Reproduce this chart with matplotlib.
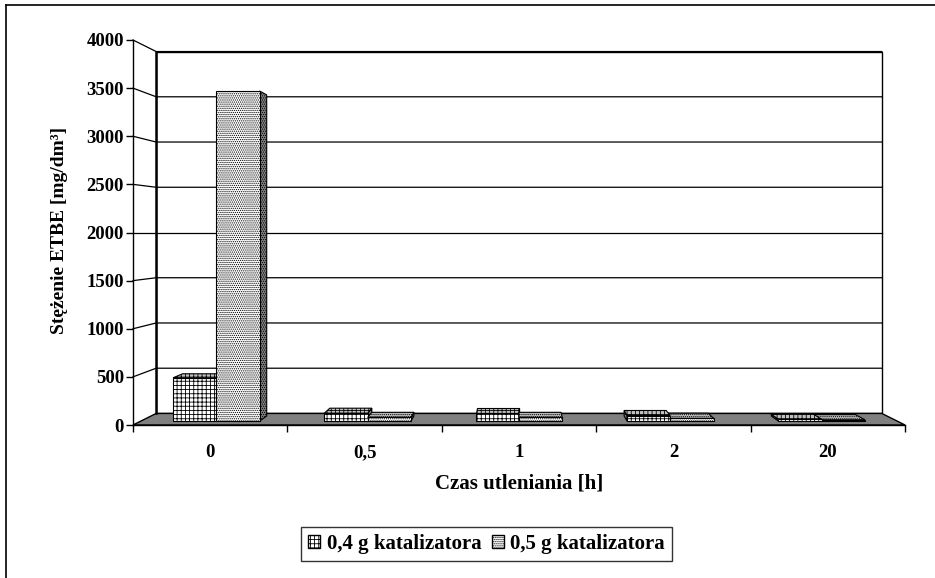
import matplotlib.pyplot as plt
from matplotlib.patches import Polygon, Patch
from matplotlib.lines import Line2D
import numpy as np

plt.rcParams['font.family'] = ['Liberation Serif', 'DejaVu Serif']
plt.rcParams['font.weight'] = 'bold'
plt.rcParams['hatch.linewidth'] = 0.6

# dane
categories = ['0', '0,5', '1', '2', '20']
series_labels = ['0,4 g katalizatora', '0,5 g katalizatora']
kat_04 = [460, 85, 85, 60, 20]
kat_05 = [3500, 40, 40, 30, 15]
y_ticks = [0, 500, 1000, 1500, 2000, 2500, 3000, 3500, 4000]

series = [kat_04, kat_05]
hatches = ['++++', '........']

DEPTH = 0.06          # zmniejszenie tylnej sciany (perspektywa)
BAR_Z = (0.33, 0.78)  # glebokosc slupkow
GAP = 1.5             # odstep miedzy grupami (jak w Excelu)
FS_TICK = 13.5
FS_TITLE = 15

fig = plt.figure(figsize=(9.35, 5.78), dpi=100)
ax = fig.add_axes([133 / 935, 153 / 578, 772 / 935, 385 / 578])
n = len(categories)
top = y_ticks[-1]
ax.set_xlim(0, n)
ax.set_ylim(0, top)
ax.patch.set_visible(False)


def proj(x, y, z):
    """Punkt (x, y, glebokosc z) -> wspolrzedne danych po perspektywie."""
    p = ax.transData.transform((x, y))
    c = ax.transAxes.transform((0.5, 0.5))
    s = 1 - DEPTH * z
    return ax.transData.inverted().transform(c + s * (p - c))


def face(pts, **kw):
    poly = Polygon([proj(*p) for p in pts], closed=True, clip_on=False, **kw)
    ax.add_patch(poly)


def line3d(pts, **kw):
    xy = np.array([proj(*p) for p in pts])
    ax.plot(xy[:, 0], xy[:, 1], clip_on=False, **kw)


# sciany i podloga
face([(0, 0, 1), (n, 0, 1), (n, top, 1), (0, top, 1)],
     facecolor='white', edgecolor='black', lw=1, zorder=0)
face([(0, 0, 0), (0, top, 0), (0, top, 1), (0, 0, 1)],
     facecolor='white', edgecolor='none', zorder=0)
face([(0, 0, 0), (n, 0, 0), (n, 0, 1), (0, 0, 1)],
     facecolor='#808080', edgecolor='black', lw=1, zorder=1)
line3d([(0, 0, 1), (0, top, 1)], color='black', lw=1.8, zorder=2)

for y in y_ticks[1:]:
    line3d([(0, y, 0), (0, y, 1), (n, y, 1)], color='black', lw=0.9, zorder=2)

# slupki
w = 1 / (2 + GAP)
boxes = []
for i in range(n):
    for k, vals in enumerate(series):
        x0 = i + GAP * w / 2 + k * w
        boxes.append((x0, x0 + w, vals[i], k))
boxes.sort(key=lambda b: -abs((b[0] + b[1]) / 2 - n / 2))

z1, z2 = BAR_Z
for x0, x1, v, k in boxes:
    st = dict(edgecolor='black', lw=0.8, hatch=hatches[k], zorder=3)
    if x1 <= n / 2:
        face([(x1, 0, z1), (x1, 0, z2), (x1, v, z2), (x1, v, z1)],
             facecolor='#808080', **st)
    elif x0 >= n / 2:
        face([(x0, 0, z1), (x0, 0, z2), (x0, v, z2), (x0, v, z1)],
             facecolor='#808080', **st)
    if v < top / 2:
        face([(x0, v, z1), (x1, v, z1), (x1, v, z2), (x0, v, z2)],
             facecolor='#c0c0c0', **st)
    face([(x0, 0, z1), (x1, 0, z1), (x1, v, z1), (x0, v, z1)],
         facecolor='white', **st)

# osie
for s in ['top', 'right']:
    ax.spines[s].set_visible(False)
ax.spines['left'].set_linewidth(1)
ax.spines['bottom'].set_linewidth(1)
ax.spines['left'].set_zorder(4)
ax.spines['bottom'].set_zorder(4)

ax.set_yticks(y_ticks)
ax.tick_params(axis='y', direction='out', length=5, width=1, pad=1.5, labelsize=FS_TICK)
ax.set_xticks(np.arange(n) + 0.5, categories)
ax.tick_params(axis='x', which='major', length=0, pad=14, labelsize=FS_TICK)
ax.set_xticks(np.arange(n + 1), minor=True)
ax.tick_params(axis='x', which='minor', direction='out', length=5, width=1)

ax.set_xlabel('Czas utleniania [h]', fontsize=FS_TITLE, fontweight='bold')
ax.xaxis.set_label_coords(0.5, -0.125)
ax.set_ylabel('Stężenie ETBE [mg/dm³]', fontsize=14, fontweight='bold')
ax.yaxis.set_label_coords(-0.084, 0.506)

# legenda
handles = [Patch(facecolor='white', edgecolor='black', hatch=h, label=lab)
           for h, lab in zip(hatches, series_labels)]
leg = fig.legend(handles=handles, loc='center', bbox_to_anchor=(486.5 / 935, 1 - 544 / 578),
                 ncol=2, frameon=True, fancybox=False, edgecolor='black', fontsize=FS_TITLE,
                 handlelength=0.58, handleheight=0.58, handletextpad=0.3,
                 columnspacing=0.5, borderpad=0.35, borderaxespad=0)
leg.get_frame().set_linewidth(1)

# ramka obszaru wykresu
fig.add_artist(Line2D([6 / 935, 6 / 935], [0, 1 - 5 / 578], color='black', lw=1.2))
fig.add_artist(Line2D([6 / 935, 1], [1 - 5 / 578, 1 - 5 / 578], color='black', lw=1.2))

fig.savefig('out.png', dpi=100)
